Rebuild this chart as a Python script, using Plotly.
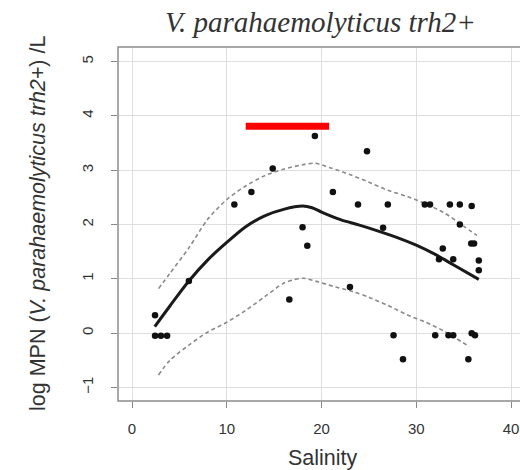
import plotly.graph_objects as go

# Observed data points (salinity, log MPN)
pts_x = [2.43, 2.43, 3.05, 3.7, 6.0, 10.8, 12.6, 14.85, 16.6, 18.0, 18.5, 19.3, 21.2,
         23.0, 23.85, 24.8, 26.5, 27.0, 27.6, 28.6, 30.9, 31.45, 32.0, 32.4, 32.8,
         33.4, 33.55, 33.9, 33.9, 34.6, 34.6, 35.5, 35.85, 35.8, 36.1, 35.85, 36.2,
         36.6, 36.6]
pts_y = [0.33, -0.05, -0.05, -0.05, 0.96, 2.37, 2.60, 3.03, 0.62, 1.95, 1.61, 3.63, 2.60,
         0.85, 2.37, 3.35, 1.94, 2.37, -0.04, -0.48, 2.37, 2.37, -0.04, 1.36, 1.56,
         -0.04, 2.37, 1.36, -0.04, 2.37, 2.00, -0.48, 2.34, 1.65, 1.65, 0.0, -0.04,
         1.34, 1.16]

# Fitted curve
fit_x = [2.4, 4.0, 6.0, 8.0, 10.0, 12.0, 14.0, 16.0, 18.0, 19.0, 20.0, 22.0, 24.0,
         26.0, 28.0, 30.0, 32.0, 34.0, 36.6]
fit_y = [0.12, 0.50, 0.96, 1.35, 1.67, 1.96, 2.16, 2.28, 2.34, 2.31, 2.23, 2.09, 1.99,
         1.88, 1.76, 1.62, 1.45, 1.25, 0.99]

# Upper confidence band
upper_x = [2.8, 4.0, 6.0, 8.0, 10.0, 12.0, 14.0, 16.0, 18.0, 19.3, 21.0, 23.0, 25.0,
           27.0, 29.0, 31.0, 33.0, 35.0, 36.4]
upper_y = [0.82, 1.10, 1.57, 2.10, 2.46, 2.71, 2.90, 3.02, 3.10, 3.13, 3.04, 2.92, 2.78,
           2.63, 2.52, 2.38, 2.21, 1.97, 1.80]

# Lower confidence band
lower_x = [2.8, 4.0, 6.0, 8.0, 10.0, 12.0, 14.0, 16.0, 17.0, 18.1, 19.7, 21.5,
           23.4, 25.0, 27.0, 29.0, 31.0, 33.0, 35.6]
lower_y = [-0.77, -0.50, -0.22, 0.02, 0.20, 0.42, 0.67, 0.92, 0.98, 1.01, 0.94,
           0.85, 0.76, 0.66, 0.51, 0.34, 0.20, 0.03, -0.25]

# Highlighted salinity range (red bar)
bar_x = [12.0, 20.8]
bar_y = [3.81, 3.81]

x_ticks = [0, 10, 20, 30, 40]
y_ticks = [-1, 0, 1, 2, 3, 4, 5]

dash_line = dict(color="#8a8a8a", width=1.6, dash="4px,3px", shape="spline", smoothing=0.8)

fig = go.Figure()
fig.add_trace(go.Scatter(x=upper_x, y=upper_y, mode="lines", line=dash_line,
                         hoverinfo="skip"))
fig.add_trace(go.Scatter(x=lower_x, y=lower_y, mode="lines", line=dash_line,
                         hoverinfo="skip"))
fig.add_trace(go.Scatter(x=fit_x, y=fit_y, mode="lines",
                         line=dict(color="#1a1a1a", width=3, shape="spline", smoothing=0.9)))
fig.add_trace(go.Scatter(x=pts_x, y=pts_y, mode="markers",
                         marker=dict(color="#111111", size=6.5)))
fig.add_trace(go.Scatter(x=bar_x, y=bar_y, mode="lines",
                         line=dict(color="#ff0000", width=7)))

fig.update_layout(
    width=520, height=470,
    margin=dict(l=118, r=0, t=47, b=69),
    paper_bgcolor="white", plot_bgcolor="white",
    showlegend=False,
    font=dict(family="Liberation Sans, Arial, sans-serif", color="#333333"),
    xaxis=dict(range=[-1.48, 40.95], tickvals=x_ticks, ticks="outside", ticklen=6,
               tickcolor="#888888", tickwidth=1.2, ticklabelstandoff=8,
               tickfont=dict(size=15, color="#333333"),
               showgrid=True, gridcolor="#dedede", gridwidth=1, zeroline=False,
               showline=False),
    yaxis=dict(range=[-1.25, 5.27], tickvals=y_ticks, ticks="outside", ticklen=6,
               tickcolor="#888888", tickwidth=1.2, tickangle=-90, ticklabelstandoff=12,
               tickfont=dict(size=15, color="#333333"),
               showgrid=True, gridcolor="#dedede", gridwidth=1, zeroline=False,
               showline=False),
    shapes=[dict(type="rect", xref="paper", yref="paper", x0=0, x1=1.05, y0=0, y1=1,
                 line=dict(color="#8c8c8c", width=1.5), layer="above")],
    annotations=[
        dict(text="<i>V. parahaemolyticus trh2+</i>", xref="paper", yref="paper",
             x=(320 - 118) / 402, y=1, yshift=25, showarrow=False,
             xanchor="center", yanchor="middle",
             font=dict(family="Liberation Serif, Times New Roman, serif", size=29,
                       color="#333333")),
        dict(text="log MPN (<i>V. parahaemolyticus trh2+</i>) /L", xref="paper",
             yref="paper", x=0, xshift=-80, y=0.5, yshift=0, textangle=-90,
             showarrow=False, xanchor="center", yanchor="middle",
             font=dict(size=21.5, color="#333333")),
        dict(text="Salinity", xref="paper", yref="paper",
             x=(323 - 118) / 402, y=0, yshift=-57, showarrow=False,
             xanchor="center", yanchor="middle",
             font=dict(size=21.5, color="#333333")),
    ],
)

fig.write_html("out.html")
